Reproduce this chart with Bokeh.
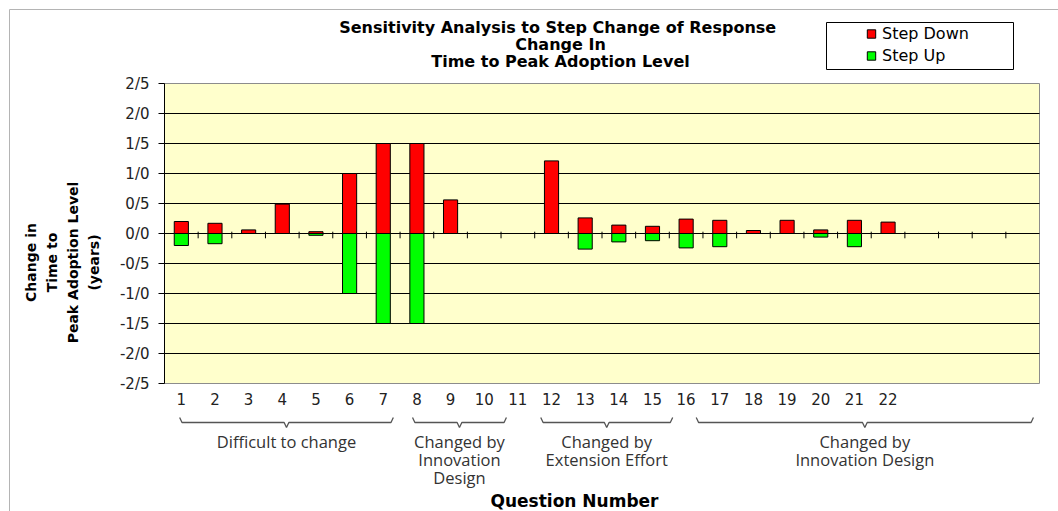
import math
from bokeh.plotting import figure
from bokeh.models import (Range1d, FixedTicker, Label, Legend, LegendItem,
                          ColumnDataSource)
from bokeh.embed import file_html
from bokeh.resources import INLINE
from bokeh.core.properties import value

# ---------------- data ----------------
question_numbers = [1, 2, 3, 4, 5, 6, 7, 8, 9, 10, 11, 12, 13, 14, 15, 16, 17, 18, 19, 20, 21, 22]
axis_slots = 26  # the category axis runs on past question 22
step_down = [0.20, 0.17, 0.06, 0.49, 0.03, 1.00, 1.50, 1.50, 0.56, 0.0, 0.0,
             1.21, 0.26, 0.14, 0.12, 0.24, 0.22, 0.05, 0.22, 0.06, 0.22, 0.19]
step_up = [-0.20, -0.17, 0.0, 0.0, -0.03, -1.00, -1.50, -1.50, 0.0, 0.0, 0.0,
           0.0, -0.26, -0.14, -0.12, -0.24, -0.22, 0.0, 0.0, -0.06, -0.22, 0.0]
series_names = ["Step Down", "Step Up"]
y_tick_values = [-2.5, -2.0, -1.5, -1.0, -0.5, 0.0, 0.5, 1.0, 1.5, 2.0, 2.5]
y_tick_labels = ["-2/5", "-2/0", "-1/5", "-1/0", "-0/5", "0/0", "0/5", "1/0", "1/5", "2/0", "2/5"]
title_lines = ["Sensitivity Analysis  to Step Change of Response", "Change In",
               "Time to Peak Adoption Level"]
y_title_lines = ["Change in", "Time to", "Peak Adoption Level", "(years)"]
x_title = "Question Number"
group_names = ["Difficult to change", "Changed by\nInnovation\nDesign",
               "Changed by\nExtension Effort", "Changed by\nInnovation Design"]

# ---------------- layout constants (page pixels) ----------------
PAGE_W, PAGE_H = 1058, 511
PLOT_L, PLOT_R, PLOT_T, PLOT_B = 164, 1039, 83, 383
Y_MIN, Y_MAX = -2.5, 2.5
RED = "#FF0000"
GREEN = "#00FF00"
SANS = "DejaVu Sans"
# brace extents along the category axis (hand-drawn in the original)
brace_start = [0.95, 7.87, 11.68, 16.30]
brace_end = [7.30, 10.66, 15.60, 26.32]

px_x = (PLOT_R - PLOT_L) / axis_slots
px_y = (PLOT_B - PLOT_T) / (Y_MAX - Y_MIN)
def to_x(px):
    return 0.5 + (px - PLOT_L) / px_x
def to_y(py):
    return Y_MAX - (py - PLOT_T) / px_y

X0, X1 = 0.5, axis_slots + 0.5

p = figure(width=PAGE_W, height=PAGE_H, title=None,
           x_range=Range1d(to_x(0), to_x(PAGE_W)), y_range=Range1d(to_y(PAGE_H), to_y(0)),
           output_backend="svg", toolbar_location=None,
           min_border_left=0, min_border_right=0, min_border_top=0, min_border_bottom=0)
p.background_fill_color = "white"
p.border_fill_color = "white"
p.outline_line_color = None
p.xgrid.visible = False
p.ygrid.visible = False

# outer chart border (top and left edges visible in the original)
p.segment(x0=[to_x(9), to_x(9)], y0=[to_y(9), to_y(9)],
          x1=[to_x(PAGE_W), to_x(9)], y1=[to_y(9), to_y(PAGE_H)],
          line_color="#b4b4b4", line_width=1)

# plot area
p.quad(left=[X0], right=[X1], bottom=[Y_MIN], top=[Y_MAX],
       fill_color="#FFFFCC", line_color="#8c8c8c", line_width=1)

# horizontal grid lines
grid_vals = [v for v in y_tick_values if Y_MIN < v < Y_MAX]
p.segment(x0=[X0] * len(grid_vals), y0=grid_vals, x1=[X1] * len(grid_vals), y1=grid_vals,
          line_color="black", line_width=1)

src = ColumnDataSource(dict(q=question_numbers, down=step_down, up=step_up))
p.vbar(x="q", top="down", bottom=0, width=0.42, source=src,
       fill_color=RED, line_color="black", line_width=1)
p.vbar(x="q", top="up", bottom=0, width=0.42, source=src,
       fill_color=GREEN, line_color="black", line_width=1)

# tick marks on the zero line at category boundaries
bounds = [i + 0.5 for i in range(1, axis_slots)]
p.segment(x0=bounds, y0=[0.03] * len(bounds), x1=bounds, y1=[-0.08] * len(bounds),
          line_color="black", line_width=1)

# y axis, pinned to the plot-area edge
ya = p.yaxis[0]
ya.fixed_location = X0
ya.bounds = (Y_MIN, Y_MAX)
ya.ticker = FixedTicker(ticks=y_tick_values)
ya.major_label_overrides = {v: lab for v, lab in zip(y_tick_values, y_tick_labels)}
ya.axis_line_color = "black"
ya.major_tick_line_color = "black"
ya.major_tick_out = 6
ya.major_tick_in = 0
ya.minor_tick_line_color = None
ya.major_label_standoff = 9
ya.major_label_text_font = SANS
ya.major_label_text_font_size = "15px"
ya.major_label_text_color = "#222222"

# x axis, pinned to the plot-area bottom
xa = p.xaxis[0]
xa.fixed_location = Y_MIN
xa.bounds = (X0, X1)
xa.ticker = FixedTicker(ticks=question_numbers)
xa.major_label_overrides = {q: str(q) for q in question_numbers}
xa.axis_line_color = None
xa.major_tick_line_color = None
xa.minor_tick_line_color = None
xa.major_label_standoff = 3
xa.major_label_text_font = SANS
xa.major_label_text_font_size = "15px"
xa.major_label_text_color = "#222222"

# titles
p.add_layout(Label(x=to_x(560), y=to_y(44), text="\n".join(title_lines),
                   text_align="center", text_baseline="middle",
                   text_font=SANS, text_font_style="bold",
                   text_font_size="16px", text_line_height=0.87, text_color="black"))

p.add_layout(Label(x=to_x(62), y=to_y(262), text="\n".join(y_title_lines), angle=math.pi / 2,
                   text_align="center", text_baseline="middle",
                   text_font=SANS, text_font_style="bold",
                   text_font_size="14px", text_line_height=1.33, text_color="black"))

p.add_layout(Label(x=to_x(574), y=to_y(500), text=x_title, text_align="center",
                   text_baseline="middle", text_font=SANS, text_font_style="bold",
                   text_font_size="17px", text_color="black"))

# group braces under the category axis
hook = 0.07
yb_hook, yb_line, yb_tip = to_y(417), to_y(422), to_y(427)
xs, ys = [], []
for a, b in zip(brace_start, brace_end):
    m = (a + b) / 2
    xs.append([a, a + hook, m - hook, m, m + hook, b - hook, b])
    ys.append([yb_hook, yb_line, yb_line, yb_tip, yb_line, yb_line, yb_hook])
p.multi_line(xs=xs, ys=ys, line_color="#555555", line_width=1.3)

gsrc = ColumnDataSource(dict(x=[(a + b) / 2 for a, b in zip(brace_start, brace_end)],
                             y=[to_y(429)] * len(group_names), text=group_names))
p.text(x="x", y="y", text="text", source=gsrc, text_align="center", text_baseline="top",
       text_font=value("Open Sans"), text_font_size="16.5px", text_line_height=0.8,
       text_color="#333333")

# legend box, then the legend content (square marker proxies) inside it
p.quad(left=[to_x(826)], right=[to_x(1013)], top=[to_y(22)], bottom=[to_y(69)],
       fill_color="white", line_color="black", line_width=1)
px_down = p.scatter(x="q", y="down", source=src, marker="square", fill_color=RED,
                    line_color="black", visible=False)
px_up = p.scatter(x="q", y="up", source=src, marker="square", fill_color=GREEN,
                  line_color="black", visible=False)
legend = Legend(items=[LegendItem(label=series_names[0], renderers=[px_down]),
                       LegendItem(label=series_names[1], renderers=[px_up])],
                location=(860, PAGE_H - 65.5), margin=0, padding=2, spacing=1,
                glyph_width=22, glyph_height=21, label_height=21, label_width=80,
                label_standoff=0, border_line_color=None,
                background_fill_alpha=0,
                label_text_font=SANS, label_text_font_size="16px",
                label_text_color="black")
p.add_layout(legend)

open("out.html", "w").write(file_html(p, INLINE))
